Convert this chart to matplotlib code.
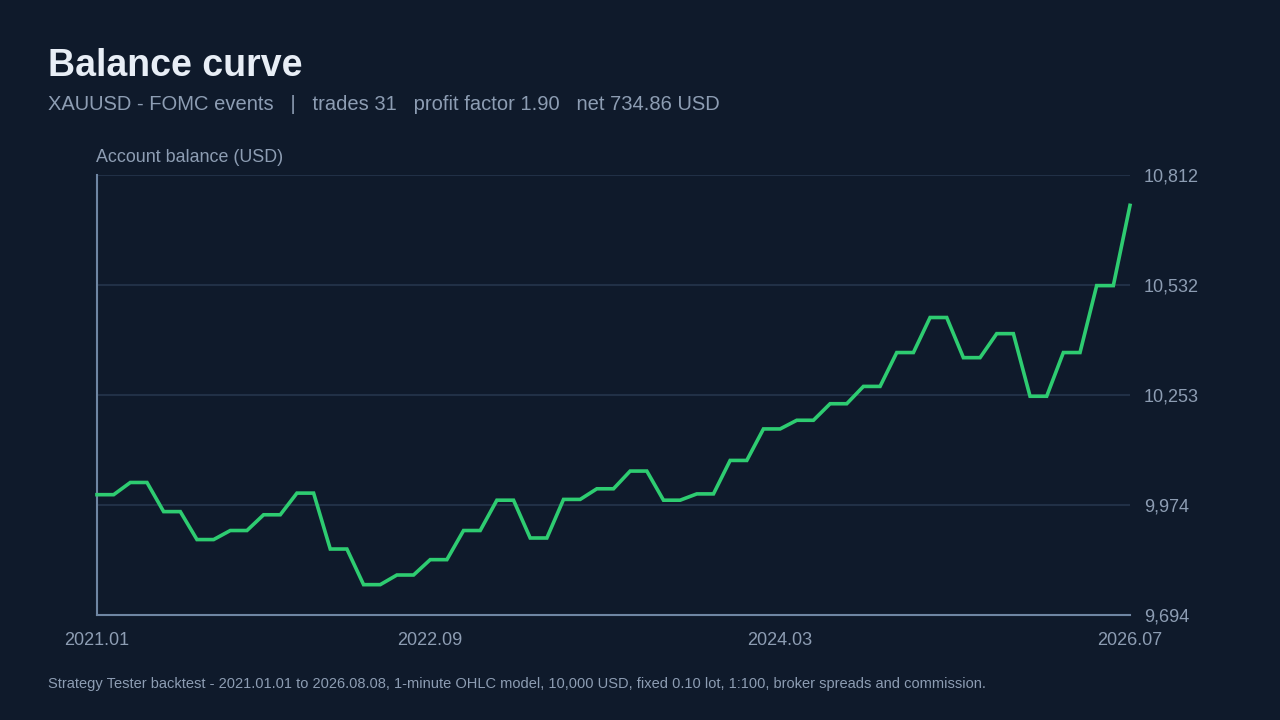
import numpy as np
import matplotlib
matplotlib.use("Agg")
import matplotlib.pyplot as plt

plt.rcParams['font.family'] = ['Liberation Sans', 'DejaVu Sans']

# balance after each closed trade (start + 31 trades)
balance = [10000, 10031, 9957, 9886, 9909, 9949, 10004, 9862, 9771.5, 9796,
           9835, 9909, 9986, 9890, 9988, 10015, 10060, 9986, 10002, 10087,
           10167, 10189, 10231, 10275, 10361, 10450, 10348, 10409, 10250,
           10361, 10531, 10734.86]
date_labels = ['2021.01', '2022.09', '2024.03', '2026.07']
date_pos = [0, 10, 20.5, 31]
ytick_labels = ['9,694', '9,974', '10,253', '10,532', '10,812']

bg = '#0f1a2b'
muted = '#8d9db3'

# each trade: hold flat for half a step, then move to the new balance
xs, ys = [], []
for i in range(len(balance) - 1):
    xs += [i, i + 0.5]
    ys += [balance[i], balance[i]]
xs.append(len(balance) - 1)
ys.append(balance[-1])

fig = plt.figure(figsize=(12.8, 7.2), dpi=100, facecolor=bg)
ax = fig.add_axes([97/1280, 105/720, 1033/1280, 440/720])
ax.set_facecolor(bg)

ax.plot(xs, ys, color='#2ecc71', lw=2.6, solid_joinstyle='miter',
        clip_on=False, zorder=3)

lo, hi = min(balance), max(balance)
pad = (hi - lo) * 0.08
ymin, ymax = lo - pad, hi + pad
ax.set_ylim(ymin, ymax)
ax.set_xlim(0, len(balance) - 1)
yt = np.linspace(ymin, ymax, 5)
ax.set_yticks(yt)
ax.set_yticklabels(ytick_labels)
ax.yaxis.tick_right()
ax.set_xticks(date_pos)
ax.set_xticklabels(date_labels)
ax.tick_params(axis='both', length=0, colors=muted, labelsize=13)
ax.tick_params(axis='y', pad=10)
ax.tick_params(axis='x', pad=12)

for v in yt[1:]:
    ax.axhline(v, color='#213046', lw=1.5, zorder=1)

for s in ['top', 'right']:
    ax.spines[s].set_visible(False)
for s in ['left', 'bottom']:
    ax.spines[s].set_color('#6f86a3')
    ax.spines[s].set_linewidth(1.5)

fig.text(48/1280, 1 - 76/720, 'Balance curve', color='#e8eef6', fontsize=27,
         fontweight='bold', va='baseline')
fig.text(48/1280, 1 - 110/720,
         'XAUUSD - FOMC events   |   trades 31   profit factor 1.90   net 734.86 USD',
         color=muted, fontsize=14.5, va='baseline')
fig.text(96/1280, 1 - 162/720, 'Account balance (USD)', color=muted,
         fontsize=12.9, va='baseline')
fig.text(48/1280, 1 - 688/720,
         'Strategy Tester backtest - 2021.01.01 to 2026.08.08, 1-minute OHLC model, '
         '10,000 USD, fixed 0.10 lot, 1:100, broker spreads and commission.',
         color=muted, fontsize=10.5, va='baseline')

fig.savefig('out.png', dpi=100, facecolor=bg)
